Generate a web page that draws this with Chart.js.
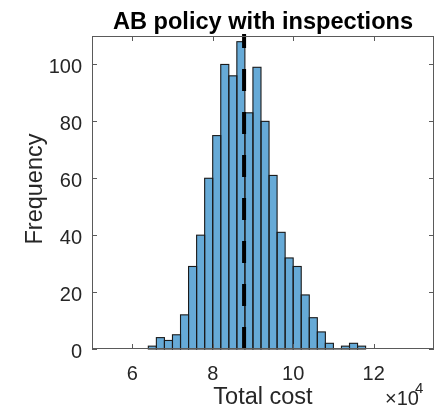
<!DOCTYPE html>
<html>
<head>
<meta charset="utf-8">
<title>AB policy with inspections</title>
<script src="https://cdn.jsdelivr.net/npm/chart.js@4.4.1/dist/chart.umd.min.js"></script>
<style>
  html, body { margin: 0; padding: 0; background: #fff; }
  canvas { display: block; }
</style>
</head>
<body>
<canvas id="costHistChart" width="436" height="417"></canvas>
<script>
// histogram of total cost (x 10^4), bin width 0.2
const binCenters = [6.5, 6.7, 6.9, 7.1, 7.3, 7.5, 7.7, 7.9, 8.1, 8.3, 8.5, 8.7, 8.9,
                    9.1, 9.3, 9.5, 9.7, 9.9, 10.1, 10.3, 10.5, 10.7, 10.9, 11.1, 11.3, 11.5, 11.7];
const binCounts = [1, 4, 3, 5, 12, 29, 40, 60, 75, 100, 96, 108, 83,
                   99, 80, 61, 41, 32, 29, 19, 11, 6, 2, 0, 1, 2, 1];
const meanCost = 8.78;

const xTicks = [6, 8, 10, 12];
const yTicks = [0, 20, 40, 60, 80, 100];
const xRange = [5, 13.5];
const yRange = [0, 110];

const FONT = '"Liberation Sans", Arial, Helvetica, sans-serif';
const TEXT_COLOR = '#262626';

// box, ticks, labels, mean line; all positioned through the chart scales
const matlabAxes = {
    id: 'matlabAxes',
    afterDatasetsDraw(chart) {
        const { ctx, chartArea: a, scales } = chart;
        const xs = scales.x;

        // bar outlines, so neighbouring bars share one edge line
        const meta = chart.getDatasetMeta(0);
        ctx.save();
        ctx.strokeStyle = '#1a1a1a';
        ctx.lineWidth = 1.1;
        meta.data.forEach(bar => {
            const p = bar.getProps(['x', 'y', 'base', 'width']);
            ctx.strokeRect(p.x - p.width / 2, p.y, p.width, p.base - p.y);
        });
        ctx.restore();

        // dashed mean line
        ctx.save();
        ctx.beginPath();
        ctx.rect(a.left, a.top - 2, a.right - a.left, a.bottom - a.top + 2);
        ctx.clip();
        ctx.strokeStyle = '#000';
        ctx.lineWidth = 4;
        ctx.setLineDash([22, 21]);
        const mx = xs.getPixelForValue(meanCost);
        ctx.beginPath();
        ctx.moveTo(mx, a.bottom);
        ctx.lineTo(mx, a.top - 2);
        ctx.stroke();
        ctx.restore();
    },
    afterDraw(chart) {
        const { ctx, chartArea: a, scales } = chart;
        const xs = scales.x, ys = scales.y;
        const tick = 5;

        ctx.save();
        ctx.strokeStyle = '#5a5a5a';
        ctx.lineWidth = 1;
        ctx.strokeRect(a.left + 0.5, a.top + 0.5, a.right - a.left - 1, a.bottom - a.top - 1);

        ctx.beginPath();
        xTicks.forEach(v => {
            const px = Math.round(xs.getPixelForValue(v)) + 0.5;
            ctx.moveTo(px, a.bottom); ctx.lineTo(px, a.bottom - tick);
            ctx.moveTo(px, a.top); ctx.lineTo(px, a.top + tick);
        });
        yTicks.forEach(v => {
            const py = Math.round(ys.getPixelForValue(v)) + 0.5;
            ctx.moveTo(a.left, py); ctx.lineTo(a.left + tick, py);
            ctx.moveTo(a.right, py); ctx.lineTo(a.right - tick, py);
        });
        ctx.stroke();

        ctx.fillStyle = TEXT_COLOR;
        ctx.font = '20px ' + FONT;
        ctx.textBaseline = 'alphabetic';
        ctx.textAlign = 'center';
        xTicks.forEach(v => ctx.fillText(String(v), xs.getPixelForValue(v), 379.5));
        ctx.textAlign = 'right';
        yTicks.forEach(v => ctx.fillText(String(v), a.left - 10, ys.getPixelForValue(v) + 9));

        // exponent for the x axis
        ctx.textAlign = 'left';
        ctx.font = '20px ' + FONT;
        ctx.fillText('\u00d710', 385, 405);
        ctx.font = '15px ' + FONT;
        ctx.fillText('4', 415, 393);

        // axis labels
        ctx.font = '23.5px ' + FONT;
        ctx.textAlign = 'center';
        ctx.fillText('Total cost', (a.left + a.right) / 2, 403.5);
        ctx.save();
        ctx.translate(41.5, 189);
        ctx.rotate(-Math.PI / 2);
        ctx.fillText('Frequency', 0, 0);
        ctx.restore();

        // title
        ctx.fillStyle = '#000';
        ctx.font = 'bold 23.6px ' + FONT;
        ctx.fillText('AB policy with inspections', (a.left + a.right) / 2, 28.5);
        ctx.restore();
    }
};

new Chart(document.getElementById('costHistChart').getContext('2d'), {
    type: 'bar',
    data: {
        datasets: [{
            label: 'Total cost',
            data: binCenters.map((c, i) => ({ x: c, y: binCounts[i] })),
            backgroundColor: 'rgb(102, 170, 215)',
            borderWidth: 0,
            barPercentage: 1,
            categoryPercentage: 1,
            inflateAmount: 0
        }]
    },
    options: {
        responsive: false,
        animation: false,
        devicePixelRatio: 1,
        layout: { padding: { left: 92, top: 36, right: 2, bottom: 68 } },
        plugins: {
            legend: { display: false },
            title: { display: false },
            tooltip: { enabled: false }
        },
        scales: {
            x: { type: 'linear', display: false, offset: false, min: xRange[0], max: xRange[1],
                 ticks: { stepSize: 2 } },
            y: { type: 'linear', display: false, min: yRange[0], max: yRange[1] }
        }
    },
    plugins: [matlabAxes]
});
</script>
</body>
</html>
